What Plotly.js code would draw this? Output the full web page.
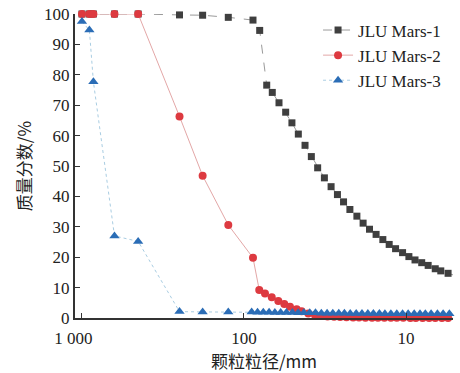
<!DOCTYPE html>
<html><head><meta charset="utf-8">
<script src="https://cdn.plot.ly/plotly-3.0.1.min.js"></script>
<style>html,body{margin:0;padding:0;background:#fff}#chart{width:460px;height:373px}</style>
</head><body><div id="chart"></div>
<script>
// Particle size (mm) and mass fraction passing (%)
const mars1Size = [1000, 900, 850, 630, 450, 250, 180, 125, 88, 80,
  72.4, 66.9, 60.8, 55.3, 50.6, 46.2, 42.0, 38.4, 35.1, 31.9,
  29.0, 26.5, 24.3, 22.2, 20.1, 18.4, 16.8, 15.3, 13.9, 12.7,
  11.6, 10.5, 9.6, 8.8, 8.0, 7.3, 6.6, 6.1, 5.5, 5.0];
const mars1Value = [100, 100, 100, 100, 100, 99.7, 99.6, 98.9, 98.0, 94.6,
  76.6, 74.2, 70.8, 67.7, 64.2, 60.5, 56.8, 53.1, 49.4, 46.1,
  43.2, 40.6, 38.2, 35.7, 33.5, 31.2, 29.2, 27.5, 25.8, 24.2,
  22.8, 21.5, 20.2, 19.1, 18.2, 17.3, 16.2, 15.5, 14.7, 14.0];

const mars2Size = [1000, 900, 850, 630, 450, 250, 180, 125, 88,
  80.5, 74.2, 67.4, 61.4, 56.4, 52.0, 47.3, 44.1, 40.1, 36.5,
  33.3, 30.5, 27.8, 25.5, 23.3, 21.2, 19.5, 17.8, 16.2, 14.9,
  13.6, 12.4, 11.4, 10.4, 9.4, 8.7, 7.9, 7.2, 6.6, 6.0, 5.5, 5.0];
const mars2Value = [100, 100, 100, 100, 100, 66.3, 46.8, 30.6, 19.8,
  9.2, 8.1, 6.8, 5.6, 4.6, 3.7, 2.9, 2.2, 1.5, 1.0,
  0.7, 0.5, 0.4, 0.3, 0.25, 0.2, 0.15, 0.1, 0.1, 0.1,
  0.05, 0.05, 0.05, 0.05, 0, 0, 0, 0, 0, 0, 0, 0];

const mars3Size = [1000, 900, 850, 630, 450, 250, 180, 125,
  89.7, 82.5, 76.0, 70.0, 64.5, 59.4, 54.7, 50.3, 46.3, 42.7,
  39.3, 36.2, 33.3, 30.7, 28.3, 26.0, 24.0, 22.1, 20.3, 18.7,
  17.2, 15.9, 14.6, 13.5, 12.4, 11.4, 10.5, 9.7, 8.9, 8.2,
  7.6, 7.0, 6.4, 5.9, 5.4, 5.0];
const mars3Value = [97.5, 94.7, 77.7, 27.0, 25.2, 2.1, 2.0, 2.0,
  2.0, 1.9, 1.9, 1.9, 1.8, 1.8, 1.8, 1.8, 1.7, 1.7,
  1.7, 1.7, 1.6, 1.6, 1.6, 1.6, 1.6, 1.5, 1.5, 1.5,
  1.5, 1.5, 1.5, 1.4, 1.4, 1.4, 1.4, 1.4, 1.4, 1.4,
  1.4, 1.4, 1.4, 1.4, 1.4, 1.4];

const seriesNames = ['JLU Mars-1', 'JLU Mars-2', 'JLU Mars-3'];
const xTickVals = [1000, 100, 10];
const xTickText = ['1 000\u00a0\u00a0\u00a0\u00a0', '100', '10'];
const yTickVals = [0, 10, 20, 30, 40, 50, 60, 70, 80, 90, 100];

const serif = 'Liberation Serif, Times New Roman, serif';
const traces = [
  {x: mars1Size, y: mars1Value, name: seriesNames[0], type: 'scatter', mode: 'lines+markers',
   cliponaxis: false,
   line: {color: '#9a9a9a', width: 1, dash: 'dash'},
   marker: {symbol: 'square', size: 7, color: '#3f3f3f'}},
  {x: mars2Size, y: mars2Value, name: seriesNames[1], type: 'scatter', mode: 'lines+markers',
   cliponaxis: false,
   line: {color: '#e3a7a7', width: 1},
   marker: {symbol: 'circle', size: 8, color: '#dd3a40'}},
  {x: mars3Size, y: mars3Value, name: seriesNames[2], type: 'scatter', mode: 'lines+markers',
   cliponaxis: false,
   line: {color: '#a9cde2', width: 1, dash: 'dot'},
   marker: {symbol: 'triangle-up', size: 9, color: '#2b6db6'}}
];

const layout = {
  width: 460, height: 373,
  margin: {l: 75, r: 7, t: 14, b: 55},
  paper_bgcolor: '#fff', plot_bgcolor: '#fff',
  font: {family: serif, size: 17, color: '#222'},
  showlegend: true,
  legend: {x: 0.643, y: 1.005, xanchor: 'left', yanchor: 'top',
           bgcolor: 'rgba(0,0,0,0)', font: {family: serif, size: 17, color: '#222'},
           tracegroupgap: 0},
  xaxis: {
    type: 'log', range: [3.043, 0.71],
    tickvals: xTickVals, ticktext: xTickText,
    ticks: 'inside', ticklen: 5, tickwidth: 1, tickcolor: '#333',
    ticklabelstandoff: 4,
    showline: true, linecolor: '#333', linewidth: 2,
    showgrid: false, zeroline: false,
    tickfont: {family: serif, size: 17, color: '#222'},
    title: {text: '颗粒粒径/mm', standoff: 3,
            font: {family: 'Noto Sans CJK SC, ' + serif, size: 17, color: '#222'}}
  },
  yaxis: {
    range: [0, 100],
    tickvals: yTickVals,
    ticks: 'inside', ticklen: 5, tickwidth: 1, tickcolor: '#333',
    showline: true, linecolor: '#333', linewidth: 2,
    showgrid: false, zeroline: false,
    tickfont: {family: serif, size: 17, color: '#222'},
    title: {text: '质量分数/%', standoff: 8,
            font: {family: 'Noto Sans CJK SC, ' + serif, size: 17, color: '#222'}}
  }
};

Plotly.newPlot('chart', traces, layout, {displayModeBar: false, staticPlot: true});
</script>
</body></html>
